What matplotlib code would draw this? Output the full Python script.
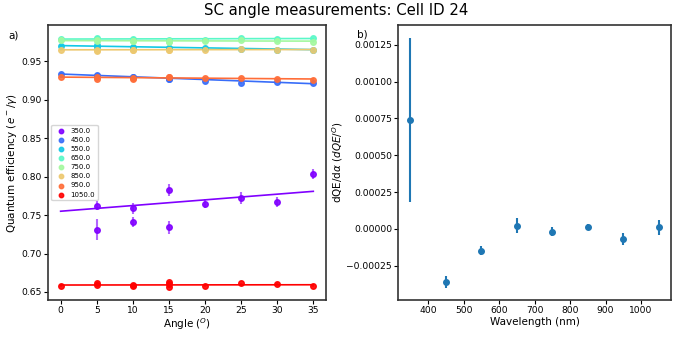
import matplotlib
matplotlib.use("Agg")
import matplotlib.pyplot as plt
import numpy as np

wavelengths = [350, 450, 550, 650, 750, 850, 950, 1050]
angles = [0, 5, 5, 10, 10, 15, 15, 15, 20, 25, 30, 35]
nan = np.nan

qe_350 = [nan, 0.762, 0.731, 0.759, 0.741, 0.783, 0.734, nan, 0.765, 0.772, 0.767, 0.8035]
qe_450 = [0.9335, 0.9315, 0.932, 0.930, 0.9295, 0.9275, 0.927, nan, 0.9245, 0.9215, 0.9225, 0.9215]
qe_550 = [0.970, 0.971, 0.969, 0.969, 0.968, 0.968, 0.967, nan, 0.968, 0.966, 0.965, 0.9645]
qe_650 = [0.979, 0.980, 0.979, 0.979, 0.978, 0.978, 0.977, nan, 0.978, 0.980, 0.979, 0.980]
qe_750 = [0.978, 0.978, 0.977, 0.976, 0.977, 0.975, 0.976, nan, 0.977, 0.978, 0.976, 0.975]
qe_850 = [0.965, 0.9635, 0.965, 0.9645, 0.965, 0.9645, 0.965, nan, 0.965, 0.9655, 0.965, 0.9645]
qe_950 = [0.930, 0.927, 0.9295, 0.928, 0.927, 0.930, 0.929, nan, 0.928, 0.928, 0.927, 0.926]
qe_1050 = [0.658, 0.6618, 0.6596, 0.6596, 0.658, 0.6626, 0.6605, 0.6566, 0.658, 0.661, 0.6605, 0.658]
err_350 = [nan, 0.006, 0.014, 0.007, 0.006, 0.008, 0.008, nan, 0.006, 0.008, 0.006, 0.007]
err_other = 0.001

# fitted lines: intercept, slope = dQE/dalpha of panel b
intercepts = [0.755, 0.9335, 0.9705, 0.979, 0.977, 0.965, 0.9295, 0.659]
slopes = [0.00074, -0.00036, -0.00015, 0.00002, -0.00002, 0.00001, -0.00007, 0.00001]
slope_err = [0.00056, 0.00004, 0.00003, 0.00005, 0.00003, 0.00002, 0.00004, 0.00005]

qe_all = [qe_350, qe_450, qe_550, qe_650, qe_750, qe_850, qe_950, qe_1050]
colors = plt.cm.rainbow(np.linspace(0, 1, len(wavelengths)))

fig = plt.figure(figsize=(6.73, 3.38), dpi=100)
ax1 = fig.add_axes([0.0713, 0.112, 0.413, 0.814])
ax2 = fig.add_axes([0.5914, 0.112, 0.406, 0.814])

a = np.array(angles)
for i, wl in enumerate(wavelengths):
    y = np.array(qe_all[i])
    e = np.array(err_350) if wl == 350 else np.full(len(a), err_other)
    ok = ~np.isnan(y)
    ax1.errorbar(a[ok], y[ok], yerr=e[ok], fmt="none", ecolor=colors[i],
                 elinewidth=1.5, alpha=0.6)
    ax1.scatter(a[ok], y[ok], s=16, color=colors[i], alpha=0.9, label="%.1f" % wl,
                zorder=3)
    xx = np.array([0, 35])
    ax1.plot(xx, intercepts[i] + slopes[i] * xx, color=colors[i], lw=1.2)

ax1.set_xticks([0, 5, 10, 15, 20, 25, 30, 35])
ax1.set_xlabel(r"Angle ($^O$)", fontsize=7.5, labelpad=1)
ax1.set_ylabel(r"Quantum efficiency ($e^-/\gamma$)", fontsize=7.5, labelpad=2)
ax1.legend(loc="center left", fontsize=5, markerscale=0.8, handletextpad=0.3,
           labelspacing=0.45, borderpad=0.4)

ax2.errorbar(wavelengths, slopes, yerr=slope_err, fmt="o", ms=4, color="tab:blue",
             elinewidth=1.5)
ax2.set_xlabel("Wavelength (nm)", fontsize=7.5, labelpad=1)
ax2.set_ylabel(r"dQE/d$\alpha$ ($dQE/^O$)", fontsize=7.5, labelpad=1)

for ax in (ax1, ax2):
    ax.tick_params(labelsize=6.6, length=2.8, pad=1.5)
    for s in ax.spines.values():
        s.set_color("#333333")
        s.set_linewidth(1.2)

fig.suptitle("SC angle measurements: Cell ID 24", fontsize=10.7, y=0.99)
fig.text(0.012, 0.885, "a)", fontsize=7.5)
fig.text(0.530, 0.89, "b)", fontsize=7.5)

fig.savefig("out.png", dpi=100)
